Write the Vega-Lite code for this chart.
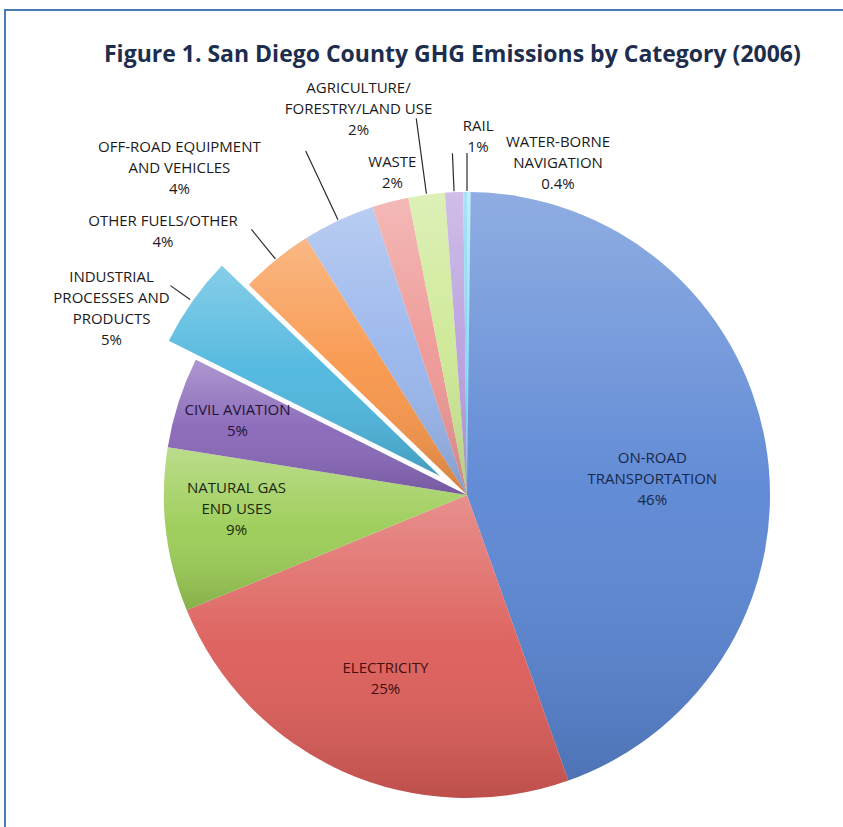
{
  "$schema": "https://vega.github.io/schema/vega-lite/v6.json",
  "width": 870,
  "height": 850,
  "autosize": {"type": "none"},
  "padding": {"left": 5, "top": 10, "right": -32, "bottom": -33},
  "background": "white",
  "params": [
    {"name": "cx", "value": 462},
    {"name": "cy", "value": 485},
    {"name": "ex", "value": -27},
    {"name": "ey", "value": -19}
  ],
  "title": {
    "text": "Figure 1.  San Diego County GHG Emissions by Category (2006)",
    "font": "Open Sans",
    "fontSize": 23,
    "fontWeight": "bold",
    "color": "#1d2d4d",
    "anchor": "start",
    "offset": -58,
    "dx": 100
  },
  "data": {
    "values": [
      {"category": "ON-ROAD TRANSPORTATION", "value": 46, "label": "ON-ROAD\nTRANSPORTATION\n46%"},
      {"category": "ELECTRICITY", "value": 25, "label": "ELECTRICITY\n25%"},
      {"category": "NATURAL GAS END USES", "value": 9, "label": "NATURAL GAS\nEND USES\n9%"},
      {"category": "CIVIL AVIATION", "value": 5, "label": "CIVIL AVIATION\n5%"},
      {"category": "INDUSTRIAL PROCESSES AND PRODUCTS", "value": 5, "label": "INDUSTRIAL\nPROCESSES AND\nPRODUCTS\n5%"},
      {"category": "OTHER FUELS/OTHER", "value": 4, "label": "OTHER FUELS/OTHER\n4%"},
      {"category": "OFF-ROAD EQUIPMENT AND VEHICLES", "value": 4, "label": "OFF-ROAD EQUIPMENT\nAND VEHICLES\n4%"},
      {"category": "WASTE", "value": 2, "label": "WASTE\n2%"},
      {"category": "AGRICULTURE/FORESTRY/LAND USE", "value": 2, "label": "AGRICULTURE/\nFORESTRY/LAND USE\n2%"},
      {"category": "RAIL", "value": 1, "label": "RAIL\n1%"},
      {"category": "WATER-BORNE NAVIGATION", "value": 0.4, "label": "WATER-BORNE\nNAVIGATION\n0.4%"}
    ]
  },
  "transform": [
    {"window": [{"op": "sum", "field": "value", "as": "end"}], "frame": [null, 0]},
    {"calculate": "datum.end - datum.value", "as": "start"},
    {"calculate": "datum.end - datum.value / 2", "as": "mid"}
  ],
  "layer": [
    {
      "transform": [{"aggregate": [{"op": "count", "as": "n"}]}],
      "mark": {"type": "rect", "filled": false, "stroke": "#4a7ab4", "strokeWidth": 2, "x2Offset": 150, "y2Offset": 150}
    },
    {
      "transform": [{"filter": "datum.category !== 'INDUSTRIAL PROCESSES AND PRODUCTS'"}],
      "mark": {"type": "arc", "x": {"expr": "cx"}, "y": {"expr": "cy"}, "radius": 303},
      "encoding": {
        "theta": {"field": "start", "type": "quantitative", "stack": null},
        "theta2": {"field": "end"},
        "color": {
          "field": "category", "type": "nominal", "legend": null,
          "scale": {
            "domain": ["ON-ROAD TRANSPORTATION", "ELECTRICITY", "NATURAL GAS END USES", "CIVIL AVIATION", "INDUSTRIAL PROCESSES AND PRODUCTS", "OTHER FUELS/OTHER", "OFF-ROAD EQUIPMENT AND VEHICLES", "WASTE", "AGRICULTURE/FORESTRY/LAND USE", "RAIL", "WATER-BORNE NAVIGATION"],
            "range": ["#5a86d4", "#dc5c58", "#9bcc55", "#8866b8", "#4db6de", "#f8964a", "#98b5ec", "#ee9895", "#cde995", "#b9a0de", "#80d5f2"]
          }
        }
      }
    },
    {
      "transform": [{"filter": "datum.category !== 'INDUSTRIAL PROCESSES AND PRODUCTS'"}],
      "mark": {
        "type": "arc", "x": {"expr": "cx"}, "y": {"expr": "cy"}, "radius": 303,
        "color": {"gradient": "linear", "x1": 0, "y1": 0, "x2": 0, "y2": 1,
          "stops": [
            {"offset": 0, "color": "rgba(255,255,255,0.32)"},
            {"offset": 0.5, "color": "rgba(255,255,255,0.05)"},
            {"offset": 1, "color": "rgba(0,0,0,0.14)"}
          ]}
      },
      "encoding": {
        "theta": {"field": "start", "type": "quantitative", "stack": null},
        "theta2": {"field": "end"}
      }
    },
    {
      "transform": [{"filter": "datum.category === 'INDUSTRIAL PROCESSES AND PRODUCTS'"}],
      "mark": {"type": "arc", "x": {"expr": "cx + ex"}, "y": {"expr": "cy + ey"}, "radius": 303},
      "encoding": {
        "theta": {"field": "start", "type": "quantitative", "stack": null},
        "theta2": {"field": "end"},
        "color": {"field": "category", "type": "nominal", "legend": null}
      }
    },
    {
      "transform": [{"filter": "datum.category === 'INDUSTRIAL PROCESSES AND PRODUCTS'"}],
      "mark": {
        "type": "arc", "x": {"expr": "cx + ex"}, "y": {"expr": "cy + ey"}, "radius": 303,
        "color": {"gradient": "linear", "x1": 0, "y1": 0, "x2": 0, "y2": 1,
          "stops": [
            {"offset": 0, "color": "rgba(255,255,255,0.32)"},
            {"offset": 0.5, "color": "rgba(255,255,255,0.05)"},
            {"offset": 1, "color": "rgba(0,0,0,0.14)"}
          ]}
      },
      "encoding": {
        "theta": {"field": "start", "type": "quantitative", "stack": null},
        "theta2": {"field": "end"}
      }
    },
    {
      "transform": [{"filter": "datum.category === 'OTHER FUELS/OTHER' || datum.category === 'RAIL' || datum.category === 'WATER-BORNE NAVIGATION'"}],
      "mark": {"type": "arc", "x": {"expr": "cx"}, "y": {"expr": "cy"}, "radius": 342, "radius2": 304, "fillOpacity": 0, "stroke": "#2b2b2b", "strokeWidth": 1.2},
      "encoding": {
        "theta": {"field": "mid", "type": "quantitative", "stack": null},
        "theta2": {"field": "mid"}
      }
    },
    {
      "transform": [{"filter": "datum.category === 'OFF-ROAD EQUIPMENT AND VEHICLES' || datum.category === 'AGRICULTURE/FORESTRY/LAND USE'"}],
      "mark": {"type": "arc", "x": {"expr": "cx"}, "y": {"expr": "cy"}, "radius": 380, "radius2": 304, "fillOpacity": 0, "stroke": "#2b2b2b", "strokeWidth": 1.2},
      "encoding": {
        "theta": {"field": "mid", "type": "quantitative", "stack": null},
        "theta2": {"field": "mid"}
      }
    },
    {
      "transform": [{"filter": "datum.category === 'INDUSTRIAL PROCESSES AND PRODUCTS'"}],
      "mark": {"type": "arc", "x": {"expr": "cx + ex"}, "y": {"expr": "cy + ey"}, "radius": 330, "radius2": 306, "fillOpacity": 0, "stroke": "#2b2b2b", "strokeWidth": 1.2},
      "encoding": {
        "theta": {"field": "mid", "type": "quantitative", "stack": null},
        "theta2": {"field": "mid"}
      }
    },
    {
      "transform": [{"filter": "datum.category === 'ON-ROAD TRANSPORTATION'"}],
      "mark": {"type": "text", "x": {"expr": "cx"}, "y": {"expr": "cy"}, "radius": 188, "dy": -5, "align": "center", "baseline": "middle", "lineBreak": "\n", "lineHeight": 21, "font": "Open Sans", "fontSize": 15, "color": "#172848"},
      "encoding": {"theta": {"field": "mid", "type": "quantitative", "stack": null}, "text": {"field": "label"}}
    },
    {
      "transform": [{"filter": "datum.category === 'ELECTRICITY'"}],
      "mark": {"type": "text", "x": {"expr": "cx"}, "y": {"expr": "cy"}, "radius": 200, "dy": -10, "align": "center", "baseline": "middle", "lineBreak": "\n", "lineHeight": 21, "font": "Open Sans", "fontSize": 15, "color": "#440f0f"},
      "encoding": {"theta": {"field": "mid", "type": "quantitative", "stack": null}, "text": {"field": "label"}}
    },
    {
      "transform": [{"filter": "datum.category === 'NATURAL GAS END USES'"}],
      "mark": {"type": "text", "x": {"expr": "cx"}, "y": {"expr": "cy"}, "radius": 232, "dy": -34, "align": "center", "baseline": "middle", "lineBreak": "\n", "lineHeight": 21, "font": "Open Sans", "fontSize": 15, "color": "#1a2810"},
      "encoding": {"theta": {"field": "mid", "type": "quantitative", "stack": null}, "text": {"field": "label"}}
    },
    {
      "transform": [{"filter": "datum.category === 'CIVIL AVIATION'"}],
      "mark": {"type": "text", "x": {"expr": "cx"}, "y": {"expr": "cy"}, "radius": 241, "dy": -11, "align": "center", "baseline": "middle", "lineBreak": "\n", "lineHeight": 21, "font": "Open Sans", "fontSize": 15, "color": "#1f1436"},
      "encoding": {"theta": {"field": "mid", "type": "quantitative", "stack": null}, "text": {"field": "label"}}
    },
    {
      "transform": [{"filter": "datum.category === 'INDUSTRIAL PROCESSES AND PRODUCTS'"}],
      "mark": {"type": "text", "x": {"expr": "cx"}, "y": {"expr": "cy"}, "radius": 303, "dx": -108, "dy": -43, "align": "center", "baseline": "middle", "lineBreak": "\n", "lineHeight": 21, "font": "Open Sans", "fontSize": 15, "color": "#1c1a1b"},
      "encoding": {"theta": {"field": "mid", "type": "quantitative", "stack": null}, "text": {"field": "label"}}
    },
    {
      "transform": [{"filter": "datum.category === 'OTHER FUELS/OTHER'"}],
      "mark": {"type": "text", "x": {"expr": "cx"}, "y": {"expr": "cy"}, "radius": 303, "dx": -113, "dy": -39, "align": "center", "baseline": "middle", "lineBreak": "\n", "lineHeight": 21, "font": "Open Sans", "fontSize": 15, "color": "#1c1a1b"},
      "encoding": {"theta": {"field": "mid", "type": "quantitative", "stack": null}, "text": {"field": "label"}}
    },
    {
      "transform": [{"filter": "datum.category === 'OFF-ROAD EQUIPMENT AND VEHICLES'"}],
      "mark": {"type": "text", "x": {"expr": "cx"}, "y": {"expr": "cy"}, "radius": 303, "dx": -159, "dy": -74, "align": "center", "baseline": "middle", "lineBreak": "\n", "lineHeight": 21, "font": "Open Sans", "fontSize": 15, "color": "#1c1a1b"},
      "encoding": {"theta": {"field": "mid", "type": "quantitative", "stack": null}, "text": {"field": "label"}}
    },
    {
      "transform": [{"filter": "datum.category === 'WASTE'"}],
      "mark": {"type": "text", "x": {"expr": "cx"}, "y": {"expr": "cy"}, "radius": 303, "dx": 2, "dy": -40, "align": "center", "baseline": "middle", "lineBreak": "\n", "lineHeight": 21, "font": "Open Sans", "fontSize": 15, "color": "#1c1a1b"},
      "encoding": {"theta": {"field": "mid", "type": "quantitative", "stack": null}, "text": {"field": "label"}}
    },
    {
      "transform": [{"filter": "datum.category === 'AGRICULTURE/FORESTRY/LAND USE'"}],
      "mark": {"type": "text", "x": {"expr": "cx"}, "y": {"expr": "cy"}, "radius": 303, "dx": -68, "dy": -107, "align": "center", "baseline": "middle", "lineBreak": "\n", "lineHeight": 21, "font": "Open Sans", "fontSize": 15, "color": "#1c1a1b"},
      "encoding": {"theta": {"field": "mid", "type": "quantitative", "stack": null}, "text": {"field": "label"}}
    },
    {
      "transform": [{"filter": "datum.category === 'RAIL'"}],
      "mark": {"type": "text", "x": {"expr": "cx"}, "y": {"expr": "cy"}, "radius": 303, "dx": 24, "dy": -66, "align": "center", "baseline": "middle", "lineBreak": "\n", "lineHeight": 21, "font": "Open Sans", "fontSize": 15, "color": "#1c1a1b"},
      "encoding": {"theta": {"field": "mid", "type": "quantitative", "stack": null}, "text": {"field": "label"}}
    },
    {
      "transform": [{"filter": "datum.category === 'WATER-BORNE NAVIGATION'"}],
      "mark": {"type": "text", "x": {"expr": "cx"}, "y": {"expr": "cy"}, "radius": 303, "dx": 91, "dy": -50, "align": "center", "baseline": "middle", "lineBreak": "\n", "lineHeight": 21, "font": "Open Sans", "fontSize": 15, "color": "#1c1a1b"},
      "encoding": {"theta": {"field": "mid", "type": "quantitative", "stack": null}, "text": {"field": "label"}}
    }
  ],
  "config": {
    "view": {"stroke": null}
  }
}
